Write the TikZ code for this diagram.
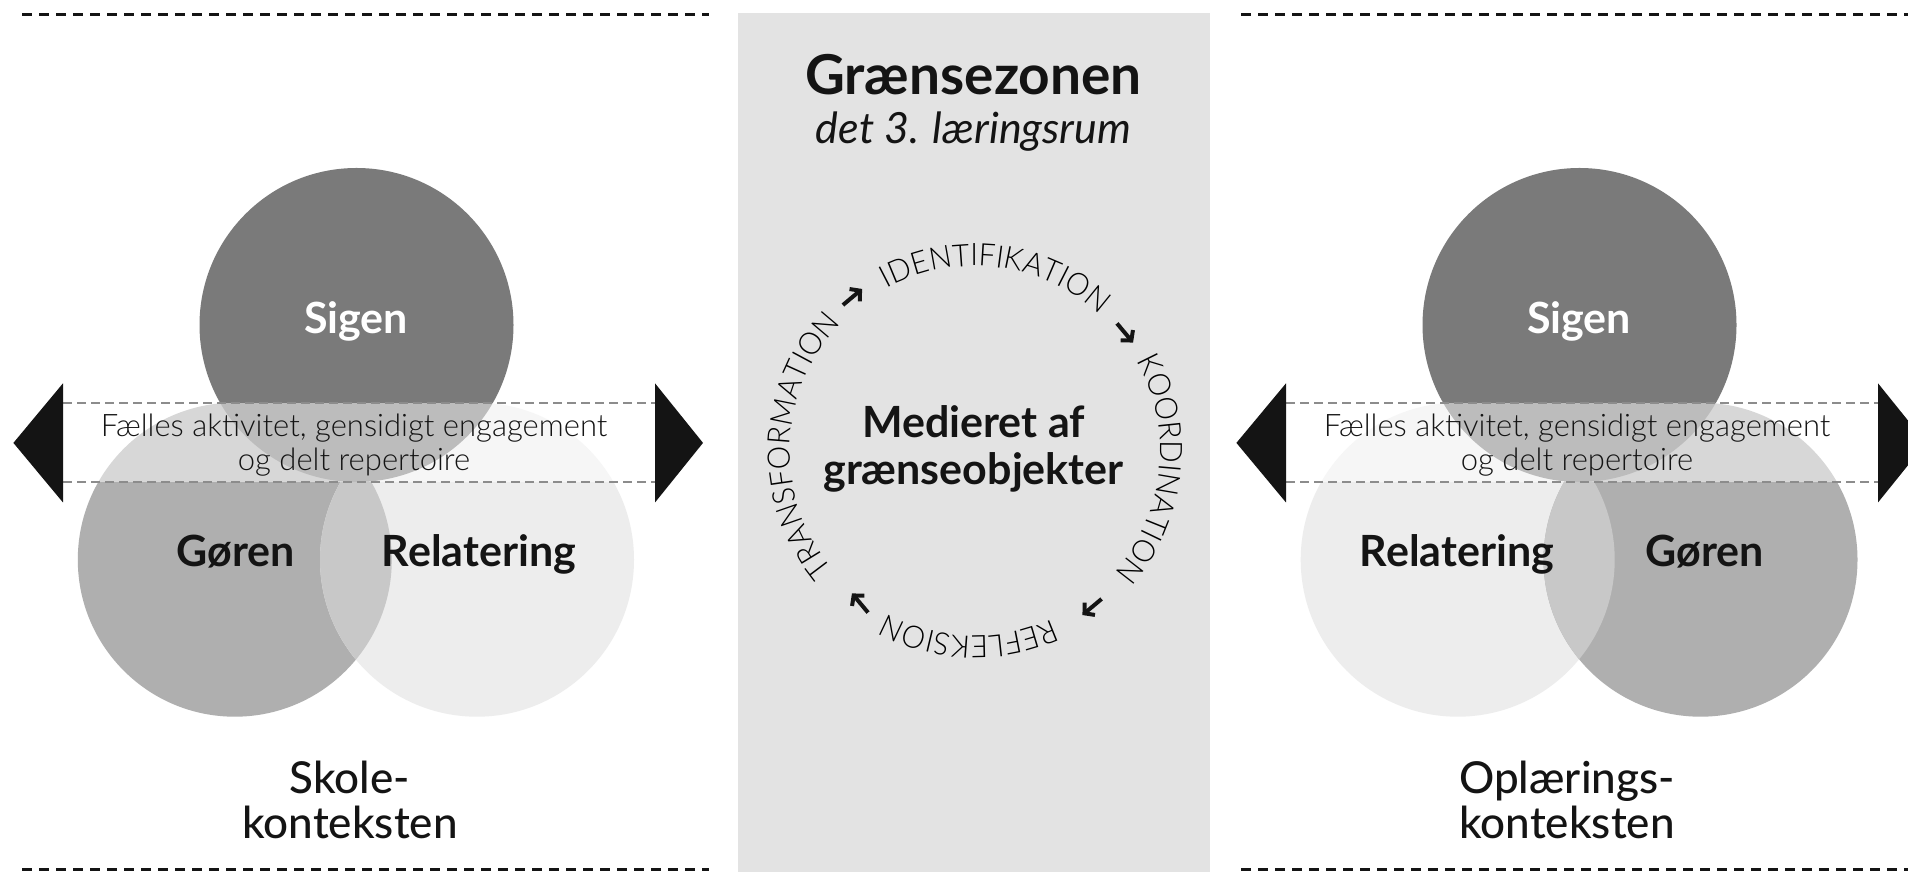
\documentclass[tikz,border=0pt]{standalone}
\usepackage{fontspec}
\setmainfont{Lato}
\newfontfamily\lightfont{Lato Light}
\newfontfamily\mediumfont{Lato Medium}
\newfontfamily\curvebase{Lato Light}[FakeStretch=0.96]
\usetikzlibrary{decorations.text,arrows.meta,calc}

\definecolor{sigenc}{HTML}{7A7A7A}
\definecolor{gorenc}{HTML}{AFAFAF}
\definecolor{relatc}{HTML}{EDEDED}
\definecolor{overlc}{HTML}{C8C8C8}
\definecolor{zonec}{HTML}{E3E3E3}
\definecolor{inkc}{HTML}{141414}
\definecolor{bandc}{HTML}{8C8C8C}

\newcommand\curvefont{\curvebase\fontsize{31}{33}\selectfont}

\begin{document}
\begin{tikzpicture}[x=1pt,y=1pt,
  pagedash/.style={draw=inkc, line width=3pt, dash pattern=on 10pt off 7pt},
  banddash/.style={draw=bandc, line width=2pt, dash pattern=on 9pt off 5pt},
  disc/.style={circle, minimum size=314pt, inner sep=0pt, draw=none},
  circlabel/.style={font=\bfseries\fontsize{43}{50}\selectfont, inner sep=0pt, anchor=base},
  bandtext/.style={font=\lightfont\fontsize{31}{34}\selectfont, inner sep=0pt, anchor=base, text=inkc},
  ctxtext/.style={font=\mediumfont\fontsize{44}{45}\selectfont, inner sep=0pt, anchor=base, text=inkc},
  titletext/.style={font=\bfseries\fontsize{55}{60}\selectfont, inner sep=0pt, anchor=base, text=inkc},
  subtext/.style={font=\itshape\fontsize{43}{46}\selectfont, inner sep=0pt, anchor=base, text=inkc},
  midtext/.style={font=\bfseries\fontsize{43}{48}\selectfont, inner sep=0pt, anchor=base, text=inkc},
  cyclearrow/.style={draw=inkc, line width=4pt, -{Straight Barb[length=7pt,width=16pt]}},
  curvetext/.style={decorate, decoration={text along path, text align=center, text={|\curvefont|#1}}}
]
\clip (0,0) rectangle (1908,872);
\fill[white] (0,0) rectangle (1908,872);

% central zone
\fill[zonec] (738,0) rectangle (1210,859);

% page dashed lines
\coordinate (tl1) at (22,857);   \coordinate (tl2) at (709,857);
\coordinate (tr1) at (1241,857); \coordinate (tr2) at (1908,857);
\coordinate (bl1) at (22,2);     \coordinate (bl2) at (709,2);
\coordinate (br1) at (1241,2);   \coordinate (br2) at (1908,2);
\draw[pagedash] (tl1) -- (tl2);
\draw[pagedash] (tr1) -- (tr2);
\draw[pagedash] (bl1) -- (bl2);
\draw[pagedash] (br1) -- (br2);

% ================= left panel =================
\node[disc, fill=gorenc] (gorL) at (234.8,312.3) {};
\node[disc, fill=relatc] (relL) at (477,312.3) {};
\begin{scope}
  \clip (gorL.center) circle[radius=157pt];
  \fill[overlc] (relL.center) circle[radius=157pt];
\end{scope}
\node[disc, fill=sigenc] (sigL) at (356.5,547) {};
\fill[white, opacity=0.5] (63,390.1) rectangle (655,469.2);
\coordinate (bLt1) at (63,469.2); \coordinate (bLt2) at (655,469.2);
\coordinate (bLb1) at (63,390.1); \coordinate (bLb2) at (655,390.1);
\draw[banddash] (bLt1) -- (bLt2);
\draw[banddash] (bLb1) -- (bLb2);
\fill[inkc] (13.4,429.1) -- (63,488.7) -- (63,369.5) -- cycle;
\fill[inkc] (703,429.1) -- (655,488.7) -- (655,369.5) -- cycle;

\node[circlabel, text=white] (sigLt) at (356,538.6) {Sigen};
\node[circlabel, text=inkc] (gorLt) at (235.5,305.3) {Gøren};
\node[circlabel, text=inkc] (relLt) at (479,305.3) {Relatering};
\node[bandtext] (bandL1) at (354,435.2) {Fælles aktivitet, gensidigt engagement};
\node[bandtext] (bandL2) at (354,401.1) {og delt repertoire};
\node[ctxtext] (ctxL1) at (350,78.6) {Skole-};
\node[ctxtext] (ctxL2) at (350,33.6) {konteksten};

% ================= right panel =================
\node[disc, fill=relatc] (relR) at (1457.7,312.3) {};
\node[disc, fill=gorenc] (gorR) at (1700.5,312.3) {};
\begin{scope}
  \clip (gorR.center) circle[radius=157pt];
  \fill[overlc] (relR.center) circle[radius=157pt];
\end{scope}
\node[disc, fill=sigenc] (sigR) at (1579.5,547) {};
\fill[white, opacity=0.5] (1286,390.1) rectangle (1878,469.2);
\coordinate (bRt1) at (1286,469.2); \coordinate (bRt2) at (1878,469.2);
\coordinate (bRb1) at (1286,390.1); \coordinate (bRb2) at (1878,390.1);
\draw[banddash] (bRt1) -- (bRt2);
\draw[banddash] (bRb1) -- (bRb2);
\fill[inkc] (1236.4,429.1) -- (1286,488.7) -- (1286,369.5) -- cycle;
\fill[inkc] (1926,429.1) -- (1878,488.7) -- (1878,369.5) -- cycle;

\node[circlabel, text=white] (sigRt) at (1579,538.6) {Sigen};
\node[circlabel, text=inkc] (relRt) at (1457,305.3) {Relatering};
\node[circlabel, text=inkc] (gorRt) at (1705,305.3) {Gøren};
\node[bandtext] (bandR1) at (1577,435.2) {Fælles aktivitet, gensidigt engagement};
\node[bandtext] (bandR2) at (1577,401.1) {og delt repertoire};
\node[ctxtext] (ctxR1) at (1567,78.6) {Oplærings-};
\node[ctxtext] (ctxR2) at (1567,33.6) {konteksten};

% ================= centre =================
\node[titletext] (title) at (973.5,777) {Grænsezonen};
\node[subtext] (subtitle) at (973.5,728.4) {det 3. læringsrum};
\node[midtext] (med1) at (973.5,434) {Medieret af};
\node[midtext] (med2) at (973.5,387.7) {grænseobjekter};

\coordinate (C) at (975,421);
\path[curvetext=IDENTIFIKATION] ($(C)+(128:185)$) arc[start angle=128, end angle=38, radius=185];
\path[curvetext=KOORDINATION] ($(C)+(39:185)$) arc[start angle=39, end angle=-51, radius=185];
\path[curvetext=REFLEKSION] ($(C)+(-47:185)$) arc[start angle=-47, end angle=-137, radius=185];
\path[curvetext=TRANSFORMATION] ($(C)+(223:185)$) arc[start angle=223, end angle=133, radius=185];

\coordinate (aTL) at (852.5,575);
\coordinate (aTR) at (1125,539);
\coordinate (aBR) at (1092,265);
\coordinate (aBL) at (860,269);
\draw[cyclearrow] ($(aTL)+(220:12.5)$) -- ($(aTL)+(40:12.5)$);
\draw[cyclearrow] ($(aTR)+(130:12.5)$) -- ($(aTR)+(-50:12.5)$);
\draw[cyclearrow] ($(aBR)+(40:12.5)$) -- ($(aBR)+(220:12.5)$);
\draw[cyclearrow] ($(aBL)+(-50:12.5)$) -- ($(aBL)+(130:12.5)$);
\end{tikzpicture}
\end{document}
